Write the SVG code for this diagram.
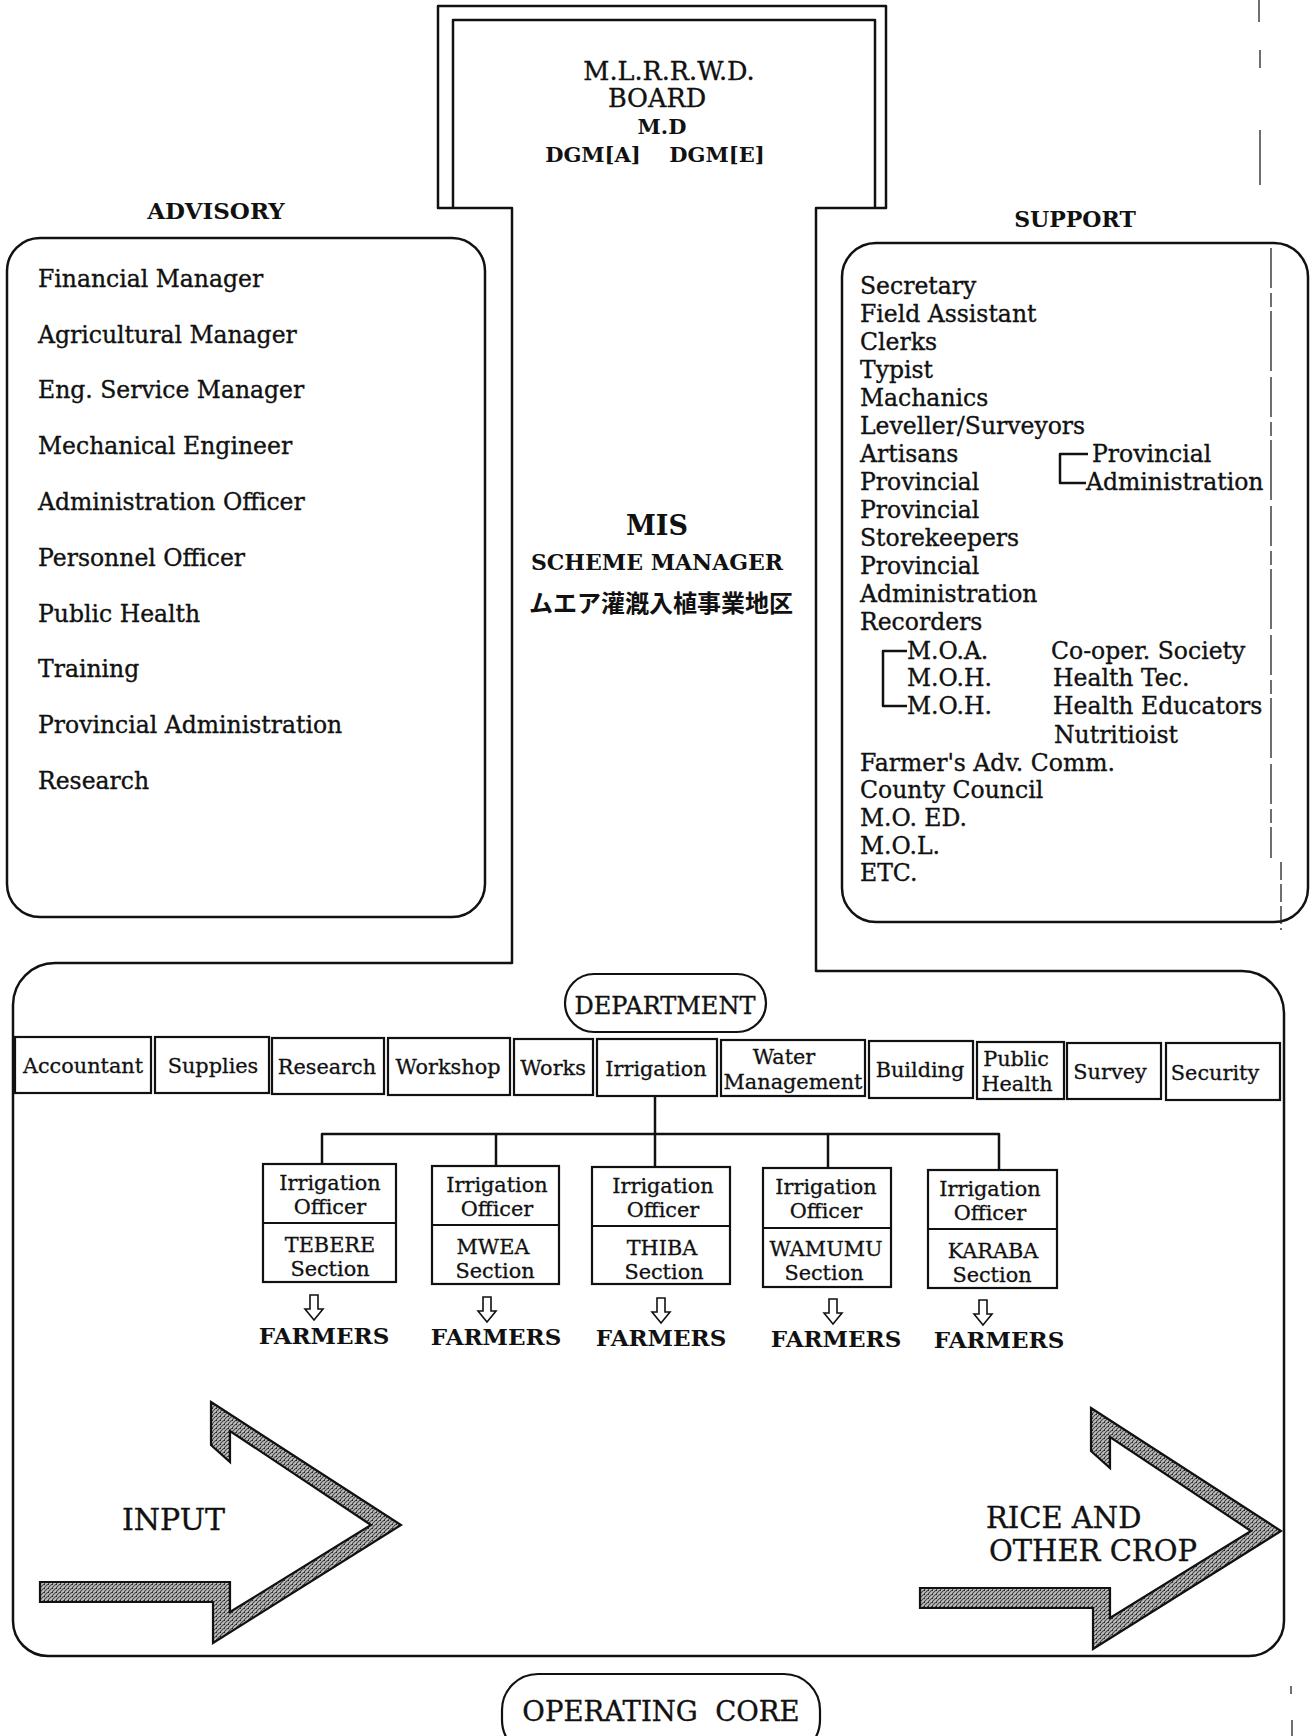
<svg xmlns="http://www.w3.org/2000/svg" width="1312" height="1736" viewBox="0 0 1312 1736">
<defs>
<style>
.ln{fill:none;stroke:#111;stroke-width:2.5;stroke-linejoin:round}
.bx{fill:none;stroke:#111;stroke-width:2.2}
.t{font-family:"DejaVu Serif","Liberation Serif",serif;fill:#111;stroke:#111;stroke-width:0.35}
.s21{font-size:23.5px}
.d{font-family:"DejaVu Serif","Liberation Serif",serif;fill:#111;stroke:#111;stroke-width:0.3;font-size:20.8px;text-anchor:middle}
.b{font-family:"DejaVu Serif","Liberation Serif",serif;fill:#111;font-weight:bold}
.m{text-anchor:middle}
.arr{fill:#fff;stroke:#111;stroke-width:1.6}
.big{fill:url(#hatch);stroke:#111;stroke-width:2.2;stroke-linejoin:miter}
</style>
<pattern id="hatch" width="4" height="4" patternUnits="userSpaceOnUse">
<rect width="4" height="4" fill="#bdbdbd"/>
<path d="M0,4 L4,0" stroke="#444" stroke-width="1.1"/>
<rect x="0" y="0" width="1" height="1" fill="#222"/>
</pattern>
<path id="bigarrow" d="M211,1402 L401,1525 L213,1643 L213,1602 L40,1602 L40,1582 L230,1582 L230,1612 L371,1525 L230,1431 L230,1462 L211,1445 Z"/>
</defs>
<rect width="1312" height="1736" fill="#fff"/>

<g id="frame">
<path class="ln" d="M512,208 L438,208 L438,6 L886,6 L886,208 L816,208 L816,971 L1242,971 A42,42 0 0 1 1284,1013 L1284,1621 A35,35 0 0 1 1249,1656 L48,1656 A35,35 0 0 1 13,1621 L13,1005 A42,42 0 0 1 55,963 L512,963 Z"/>
<path class="ln" d="M453,208 L453,20 L875,20 L875,208"/>
</g>

<g id="board">
<text class="t m" x="669" y="80" font-size="25.5">M.L.R.R.W.D.</text>
<text class="t m" x="657" y="107" font-size="25.5">BOARD</text>
<text class="b m" x="662" y="134" font-size="21">M.D</text>
<text class="b m" x="593" y="162" font-size="21">DGM[A]</text>
<text class="b m" x="717" y="162" font-size="21">DGM[E]</text>
</g>

<g id="advisory">
<text class="b m" x="216" y="219" font-size="23">ADVISORY</text>
<rect class="ln" x="7" y="238" width="478" height="679" rx="33"/>
<g class="t s21">
<text x="38" y="287">Financial Manager</text>
<text x="38" y="343">Agricultural Manager</text>
<text x="38" y="398">Eng. Service Manager</text>
<text x="38" y="454">Mechanical Engineer</text>
<text x="38" y="510">Administration Officer</text>
<text x="38" y="566">Personnel Officer</text>
<text x="38" y="622">Public Health</text>
<text x="38" y="677">Training</text>
<text x="38" y="733">Provincial Administration</text>
<text x="38" y="789">Research</text>
</g>
</g>

<g id="scheme-manager">
<text class="b m" x="657" y="535" font-size="27">MIS</text>
<text class="b m" x="657" y="570" font-size="22">SCHEME MANAGER</text>
<text x="661" y="612" font-size="24" font-weight="bold" text-anchor="middle" fill="#111" font-family="'Noto Sans CJK JP','Noto Sans CJK SC',sans-serif">ムエア灌漑入植事業地区</text>
</g>

<g id="support">
<text class="b m" x="1075" y="227" font-size="22">SUPPORT</text>
<rect class="ln" x="842" y="243" width="466" height="679" rx="34"/>
<g class="t s21">
<text x="860" y="294">Secretary</text>
<text x="860" y="322">Field Assistant</text>
<text x="860" y="350">Clerks</text>
<text x="860" y="378">Typist</text>
<text x="860" y="406">Machanics</text>
<text x="860" y="434">Leveller/Surveyors</text>
<text x="860" y="462">Artisans</text>
<text x="860" y="490">Provincial</text>
<text x="860" y="518">Provincial</text>
<text x="860" y="546">Storekeepers</text>
<text x="860" y="574">Provincial</text>
<text x="860" y="602">Administration</text>
<text x="860" y="630">Recorders</text>
<text x="907" y="659">M.O.A.</text>
<text x="907" y="686">M.O.H.</text>
<text x="907" y="714">M.O.H.</text>
<text x="860" y="771">Farmer's Adv. Comm.</text>
<text x="860" y="798">County Council</text>
<text x="860" y="826">M.O. ED.</text>
<text x="860" y="854">M.O.L.</text>
<text x="860" y="881">ETC.</text>
<text x="1092" y="462">Provincial</text>
<text x="1086" y="490">Administration</text>
<text x="1051" y="659">Co-oper. Society</text>
<text x="1053" y="686">Health Tec.</text>
<text x="1053" y="714">Health Educators</text>
<text x="1054" y="743">Nutritioist</text>
</g>
<path class="ln" stroke-width="2" d="M1088,454 L1060,454 L1060,483 L1086,483"/>
<path class="ln" stroke-width="2" d="M907,651 L883,651 L883,706 L907,706"/>
</g>

<g id="department">
<rect class="bx" x="565" y="974" width="201" height="58" rx="29"/>
<text class="t m" x="665" y="1014" font-size="24">DEPARTMENT</text>
</g>

<g id="dept-boxes">
<rect class="bx" x="15" y="1037" width="136" height="56"/>
<text class="d" x="83" y="1073">Accountant</text>
<rect class="bx" x="155" y="1037" width="114" height="56"/>
<text class="d" x="213" y="1073">Supplies</text>
<rect class="bx" x="272" y="1038" width="112" height="56"/>
<text class="d" x="327" y="1074">Research</text>
<rect class="bx" x="388" y="1038" width="122" height="57"/>
<text class="d" x="448" y="1074">Workshop</text>
<rect class="bx" x="514" y="1039" width="79" height="56"/>
<text class="d" x="553" y="1075">Works</text>
<rect class="bx" x="597" y="1039" width="120" height="57"/>
<text class="d" x="656" y="1076">Irrigation</text>
<rect class="bx" x="721" y="1040" width="144" height="56"/>
<text class="d" x="784" y="1064">Water</text>
<text class="d" x="793" y="1089">Management</text>
<rect class="bx" x="869" y="1041" width="104" height="57"/>
<text class="d" x="920" y="1077">Building</text>
<rect class="bx" x="977" y="1042" width="87" height="57"/>
<text class="d" x="1016" y="1066">Public</text>
<text class="d" x="1017" y="1091">Health</text>
<rect class="bx" x="1067" y="1043" width="94" height="56"/>
<text class="d" x="1110" y="1079">Survey</text>
<rect class="bx" x="1166" y="1043" width="114" height="57"/>
<text class="d" x="1215" y="1080">Security</text>
</g>

<g id="connectors" class="ln" stroke-width="2.2">
<path d="M655,1096 L655,1167"/>
<path d="M322,1164 L322,1134 L999,1134 L999,1170"/>
<path d="M496,1134 L496,1166"/>
<path d="M828,1134 L828,1168"/>
</g>

<g id="sections">
<g id="tebere">
<rect class="bx" stroke-width="2.6" x="263" y="1164" width="133" height="118"/>
<path class="bx" stroke-width="2.2" d="M263,1223 H396"/>
<text class="d" x="330" y="1190">Irrigation</text>
<text class="d" x="330" y="1214">Officer</text>
<text class="d" x="330" y="1252">TEBERE</text>
<text class="d" x="330" y="1276">Section</text>
</g>
<g id="mwea">
<rect class="bx" stroke-width="2.6" x="432" y="1166" width="127" height="118"/>
<path class="bx" stroke-width="2.2" d="M432,1225 H559"/>
<text class="d" x="497" y="1192">Irrigation</text>
<text class="d" x="497" y="1216">Officer</text>
<text class="d" x="493" y="1254">MWEA</text>
<text class="d" x="495" y="1278">Section</text>
</g>
<g id="thiba">
<rect class="bx" stroke-width="2.6" x="592" y="1167" width="138" height="117"/>
<path class="bx" stroke-width="2.2" d="M592,1226 H730"/>
<text class="d" x="663" y="1193">Irrigation</text>
<text class="d" x="663" y="1217">Officer</text>
<text class="d" x="662" y="1255">THIBA</text>
<text class="d" x="664" y="1279">Section</text>
</g>
<g id="wamumu">
<rect class="bx" stroke-width="2.6" x="763" y="1168" width="128" height="119"/>
<path class="bx" stroke-width="2.2" d="M763,1228 H891"/>
<text class="d" x="826" y="1194">Irrigation</text>
<text class="d" x="826" y="1218">Officer</text>
<text class="d" x="826" y="1256">WAMUMU</text>
<text class="d" x="824" y="1280">Section</text>
</g>
<g id="karaba">
<rect class="bx" stroke-width="2.6" x="928" y="1170" width="129" height="118"/>
<path class="bx" stroke-width="2.2" d="M928,1229 H1057"/>
<text class="d" x="990" y="1196">Irrigation</text>
<text class="d" x="990" y="1220">Officer</text>
<text class="d" x="993" y="1258">KARABA</text>
<text class="d" x="992" y="1282">Section</text>
</g>
</g>

<g id="farmers">
<path class="arr" d="M310,1295 h8 v14 h5 l-9,11 l-9,-11 h5 z"/>
<path class="arr" d="M483,1297 h8 v14 h5 l-9,11 l-9,-11 h5 z"/>
<path class="arr" d="M657,1298 h8 v14 h5 l-9,11 l-9,-11 h5 z"/>
<path class="arr" d="M829,1299 h8 v14 h5 l-9,11 l-9,-11 h5 z"/>
<path class="arr" d="M979,1300 h8 v14 h5 l-9,11 l-9,-11 h5 z"/>
<text class="b m" x="324" y="1344" font-size="23">FARMERS</text>
<text class="b m" x="496" y="1345" font-size="23">FARMERS</text>
<text class="b m" x="661" y="1346" font-size="23">FARMERS</text>
<text class="b m" x="836" y="1347" font-size="23">FARMERS</text>
<text class="b m" x="999" y="1348" font-size="23">FARMERS</text>
</g>

<g id="input">
<use href="#bigarrow" class="big"/>
<text class="t" x="122" y="1530" font-size="30">INPUT</text>
</g>

<g id="output">
<use href="#bigarrow" class="big" transform="translate(880,6)"/>
<text class="t" x="986" y="1528" font-size="29">RICE AND</text>
<text class="t" x="989" y="1561" font-size="29">OTHER CROP</text>
</g>

<g id="operating-core">
<rect class="bx" x="502" y="1674" width="318" height="82" rx="36"/>
<text class="t m" x="661" y="1721" font-size="27.5">OPERATING&#160; CORE</text>
</g>

<g id="scan-edge" fill="none" stroke="#222" stroke-width="1.3">
<path d="M1259,0 V22 M1260,50 V68 M1260,130 V185"/>
<path d="M1271,248 V858" stroke-dasharray="40 5 14 4 60 6"/>
<path d="M1281,862 V930" stroke-dasharray="18 4"/>
<path d="M1291,1686 V1694 M1292,1720 V1736"/>
</g>
</svg>
